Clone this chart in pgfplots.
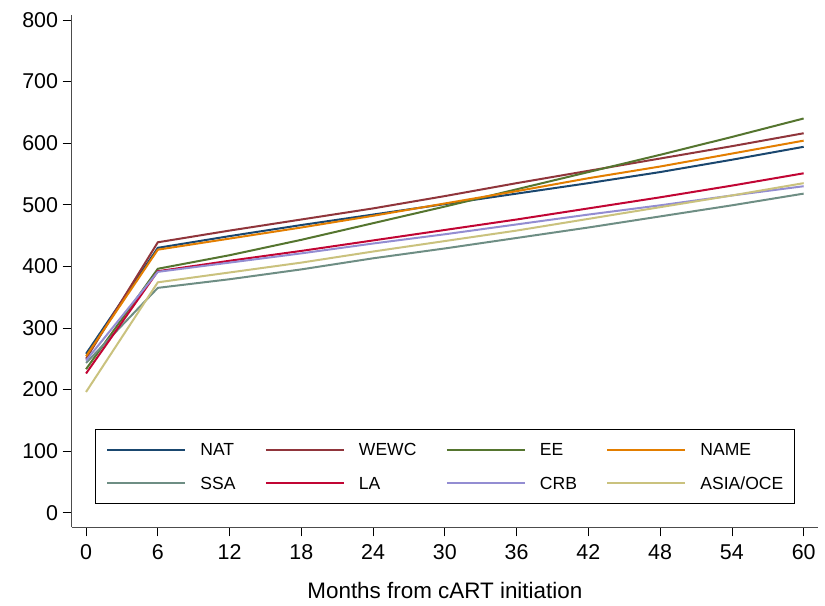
\documentclass[border=0pt]{standalone}
\usepackage{fontspec}
\setmainfont{Liberation Sans}
\usepackage{pgfplots}
\usepackage{pgfplotstable}
\pgfplotsset{compat=1.18}
\definecolor{cNAT}{HTML}{1A476F}
\definecolor{cWEWC}{HTML}{90353B}
\definecolor{cEE}{HTML}{55752F}
\definecolor{cNAME}{HTML}{E37E00}
\definecolor{cSSA}{HTML}{6E8E84}
\definecolor{cLA}{HTML}{C10534}
\definecolor{cCRB}{HTML}{938DD2}
\definecolor{cASIA}{HTML}{CAC27E}
\pgfplotstableread{
month NAT WEWC EE NAME SSA LA CRB ASIA
0 258 250 233 254 243 226 247 196
6 430 439 396 427 365 392 391 374
12 449 458 418 445 379 409 406 390
18 467 476 443 463 395 425 421 406
24 484 494 470 482 413 442 437 424
30 501 514 497 502 429 459 452 441
36 518 535 525 522 446 476 468 458
42 535 555 553 543 463 494 484 477
48 553 575 581 562 481 512 499 496
54 573 595 610 583 499 531 515 515
60 594 616 640 604 518 551 530 535
}\data
\begin{document}
\begin{tikzpicture}[x=1bp,y=1bp]
\useasboundingbox (0,0) rectangle (825,606);
\begin{axis}[
  at={(71.7bp,78.7bp)}, anchor=south west,
  scale only axis, width=746.3bp, height=512.3bp,
  xmin=-1.2, xmax=61.2, ymin=-23.7, ymax=808,
  axis lines=left,
  every outer x axis line/.append style={-, black!70, line width=1bp},
  every outer y axis line/.append style={-, black!70, line width=1bp},
  xtick={0,6,...,60}, ytick={0,100,...,800},
  tick align=outside, major tick length=9bp,
  every tick/.style={black, line width=0.8bp},
  /pgf/number format/assume math mode=true,
  tick label style={font=\fontsize{21.5}{25}\selectfont, inner sep=0pt},
  xticklabel style={anchor=north, yshift=-8bp},
  yticklabel style={anchor=east, xshift=-4.5bp},
  xlabel={Months from cART initiation},
  xlabel style={font=\fontsize{22.5}{26}\selectfont, at={(axis description cs:0.5,0)}, anchor=center, yshift=-62.7bp},
  legend columns=4,
  legend cell align=left,
  legend style={at={(0.0312,0.0455)}, anchor=south west, draw=black, line width=0.8bp,
    inner xsep=11bp, inner ysep=14bp, row sep=21bp,
    font=\fontsize{17.6}{20}\selectfont,
    nodes={inner sep=0pt, text height=12.6bp, text depth=0pt},
    /tikz/every odd column/.append style={column sep=14bp},
    /tikz/every even column/.append style={column sep=29.5bp}},
  legend image code/.code={\draw[#1, line width=2bp] (0bp,0bp) -- (78bp,0bp);},
  every axis plot/.append style={line width=2bp},
]
\addplot[cNAT] table[x=month, y=NAT] {\data};
\addlegendentry{NAT}
\addplot[cWEWC] table[x=month, y=WEWC] {\data};
\addlegendentry{WEWC}
\addplot[cEE] table[x=month, y=EE] {\data};
\addlegendentry{EE}
\addplot[cNAME] table[x=month, y=NAME] {\data};
\addlegendentry{NAME}
\addplot[cSSA] table[x=month, y=SSA] {\data};
\addlegendentry{SSA}
\addplot[cLA] table[x=month, y=LA] {\data};
\addlegendentry{LA}
\addplot[cCRB] table[x=month, y=CRB] {\data};
\addlegendentry{CRB}
\addplot[cASIA] table[x=month, y=ASIA] {\data};
\addlegendentry{ASIA/OCE}
\end{axis}
\end{tikzpicture}
\end{document}
